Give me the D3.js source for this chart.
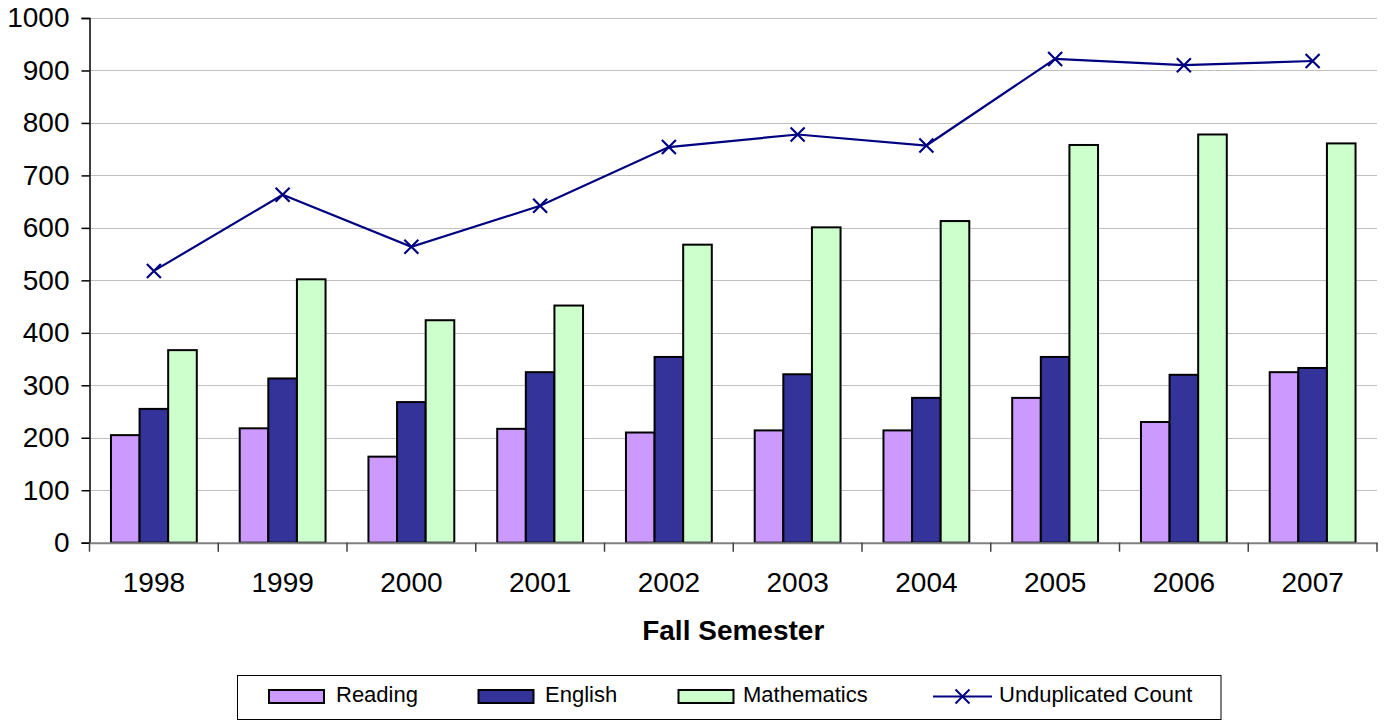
<!DOCTYPE html>
<html>
<head>
<meta charset="utf-8">
<title>Fall Semester Enrollment</title>
<script src="https://d3js.org/d3.v7.min.js"></script>
<style>
  body { margin: 0; background: #fff; font-family: "Liberation Sans", Arial, sans-serif; }
  svg { display: block; }
  .tick-label { font-size: 28px; fill: #000; }
  .legend-label { font-size: 22px; fill: #000; }
</style>
</head>
<body>
<div id="chart"></div>
<script>
const years = ["1998", "1999", "2000", "2001", "2002", "2003", "2004", "2005", "2006", "2007"];
const reading = [205, 218, 164, 217, 210, 214, 214, 276, 230, 325];
const english = [255, 313, 268, 325, 354, 321, 276, 354, 320, 333];
const mathematics = [367, 502, 424, 452, 568, 601, 613, 758, 778, 761];
const unduplicated = [518, 663, 564, 642, 754, 778, 757, 922, 910, 918];
const yTicks = [0, 100, 200, 300, 400, 500, 600, 700, 800, 900, 1000];

const barSeries = [
  { name: "Reading", values: reading, color: "#cc99ff" },
  { name: "English", values: english, color: "#333399" },
  { name: "Mathematics", values: mathematics, color: "#ccffcc" }
];

const width = 1384, height = 721;
const plot = { left: 89.5, right: 1377, top: 18, bottom: 542.7 };

const svg = d3.select("#chart").append("svg")
  .attr("width", width)
  .attr("height", height);

const x = d3.scaleBand().domain(years).range([plot.left, plot.right]);
const xSub = d3.scaleBand()
  .domain(barSeries.map(s => s.name))
  .range([0, x.bandwidth()])
  .paddingInner(0)
  .paddingOuter(0.75);
const y = d3.scaleLinear().domain([0, 1000]).range([plot.bottom, plot.top]);

// gridlines
svg.append("g")
  .selectAll("line")
  .data(yTicks.filter(d => d > 0))
  .join("line")
  .attr("x1", plot.left).attr("x2", plot.right)
  .attr("y1", d => Math.round(y(d)) + 0.5).attr("y2", d => Math.round(y(d)) + 0.5)
  .attr("stroke", "#c0c0c0")
  .attr("stroke-width", 1);

// bars
const groups = svg.append("g")
  .selectAll("g")
  .data(years)
  .join("g")
  .attr("transform", d => `translate(${x(d)},0)`);

groups.selectAll("rect")
  .data((d, i) => barSeries.map(s => ({ name: s.name, color: s.color, value: s.values[i] })))
  .join("rect")
  .attr("x", d => xSub(d.name))
  .attr("width", xSub.bandwidth())
  .attr("y", d => y(d.value))
  .attr("height", d => y(0) - y(d.value))
  .attr("fill", d => d.color)
  .attr("stroke", "#000")
  .attr("stroke-width", 2);

// y axis
const yAxis = svg.append("g")
  .attr("transform", `translate(${plot.left},0)`)
  .call(d3.axisLeft(y).tickValues(yTicks).tickSize(8).tickPadding(12).tickFormat(d3.format("d")));
yAxis.select(".domain").attr("stroke", "#000").attr("stroke-width", 1.5);
yAxis.selectAll(".tick line").attr("stroke", "#000").attr("stroke-width", 1.5);
yAxis.selectAll(".tick text")
  .attr("class", "tick-label")
  .attr("font-family", null).attr("font-size", null)
  .attr("x", -20);

// x axis
const xAxis = svg.append("g")
  .attr("transform", `translate(0,${plot.bottom})`)
  .call(d3.axisBottom(x).tickSize(0).tickPadding(29));
xAxis.select(".domain").attr("stroke", "#808080").attr("stroke-width", 2);
xAxis.selectAll(".tick text")
  .attr("class", "tick-label")
  .attr("font-family", null).attr("font-size", null);

// x tick marks at band boundaries
const boundaries = years.map(d => x(d)).concat([plot.right]);
svg.append("g")
  .selectAll("line")
  .data(boundaries)
  .join("line")
  .attr("x1", d => d).attr("x2", d => d)
  .attr("y1", plot.bottom).attr("y2", plot.bottom + 9)
  .attr("stroke", "#404040")
  .attr("stroke-width", 1.5);

// x axis title
svg.append("text")
  .attr("x", (plot.left + plot.right) / 2)
  .attr("y", 639.5)
  .attr("text-anchor", "middle")
  .attr("font-size", 28)
  .attr("font-weight", "bold")
  .text("Fall Semester");

// line series
const cx = d => x(d) + x.bandwidth() / 2;
const lineData = years.map((d, i) => ({ year: d, value: unduplicated[i] }));
svg.append("path")
  .datum(lineData)
  .attr("fill", "none")
  .attr("stroke", "#000080")
  .attr("stroke-width", 2.2)
  .attr("d", d3.line().x(d => cx(d.year)).y(d => y(d.value)));

const m = 7;
const crossPath = `M${-m},${-m}L${m},${m}M${-m},${m}L${m},${-m}`;
svg.append("g")
  .selectAll("path")
  .data(lineData)
  .join("path")
  .attr("transform", d => `translate(${cx(d.year)},${y(d.value)})`)
  .attr("d", crossPath)
  .attr("stroke", "#000080")
  .attr("stroke-width", 2.2)
  .attr("fill", "none");

// legend
const legend = svg.append("g");
legend.append("rect")
  .attr("x", 237.5).attr("y", 675.5)
  .attr("width", 983.5).attr("height", 44)
  .attr("fill", "#fff")
  .attr("stroke", "#000")
  .attr("stroke-width", 1);

const legendItems = [
  { name: "Reading", color: "#cc99ff", sx: 269, tx: 336 },
  { name: "English", color: "#333399", sx: 478.5, tx: 545 },
  { name: "Mathematics", color: "#ccffcc", sx: 678.5, tx: 743 }
];
legend.selectAll("rect.sw")
  .data(legendItems)
  .join("rect")
  .attr("class", "sw")
  .attr("x", d => d.sx).attr("y", 690)
  .attr("width", 55).attr("height", 13)
  .attr("fill", d => d.color)
  .attr("stroke", "#000")
  .attr("stroke-width", 2);
legend.selectAll("text.li")
  .data(legendItems)
  .join("text")
  .attr("class", "li legend-label")
  .attr("x", d => d.tx).attr("y", 702)
  .text(d => d.name);

legend.append("line")
  .attr("x1", 933).attr("x2", 992)
  .attr("y1", 696.5).attr("y2", 696.5)
  .attr("stroke", "#000080").attr("stroke-width", 2);
legend.append("path")
  .attr("transform", "translate(962.5,696.5)")
  .attr("d", crossPath)
  .attr("stroke", "#000080").attr("stroke-width", 2).attr("fill", "none");
legend.append("text")
  .attr("class", "legend-label")
  .attr("x", 999).attr("y", 702)
  .text("Unduplicated Count");
</script>
</body>
</html>
